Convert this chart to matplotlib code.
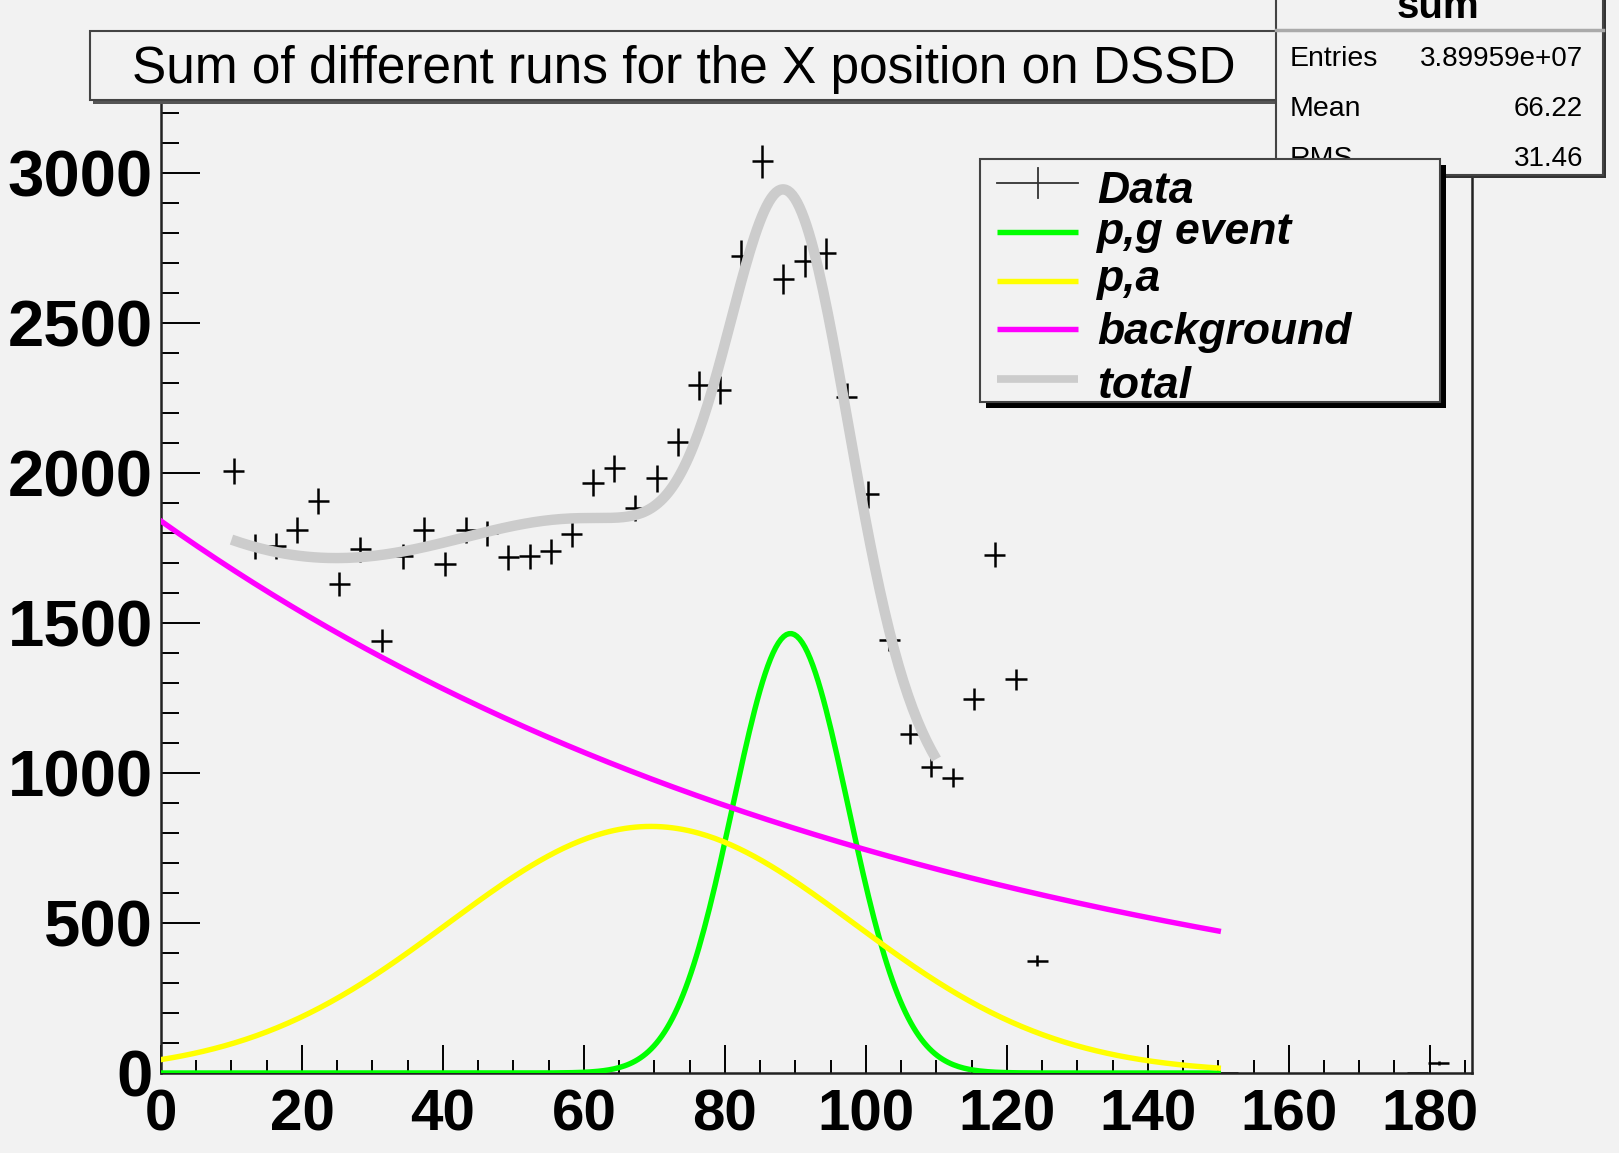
import numpy as np
import matplotlib
matplotlib.use("Agg")
import matplotlib.pyplot as plt
from matplotlib.patches import Rectangle
from matplotlib.lines import Line2D

# ---- data ----
# bin centres and counts of the summed histogram
x_data = [10.3, 13.3, 16.3, 19.3, 22.3, 25.3, 28.3, 31.3, 34.3, 37.3,
          40.3, 43.3, 46.3, 49.3, 52.3, 55.3, 58.3, 61.3, 64.3, 67.3,
          70.3, 73.3, 76.3, 79.3, 82.3, 85.3, 88.3, 91.3, 94.3, 97.3,
          100.3, 103.3, 106.3, 109.3, 112.3, 115.3, 118.3, 121.3, 124.3,
          151.3, 178.3, 181.3]
y_data = [2007, 1754, 1757, 1810, 1907, 1629, 1746, 1441, 1723, 1810,
          1697, 1810, 1799, 1719, 1723, 1740, 1796, 1968, 2016, 1883,
          1982, 2104, 2293, 2277, 2724, 3040, 2647, 2707, 2732, 2252,
          1929, 1445, 1130, 1020, 985, 1247, 1728, 1312, 375,
          0, 0, 33]
bin_half = 1.5

# fit components (amplitude, mean, sigma) / exponential background
pg_par = [1465, 89.3, 8.2]
pa_par = [822, 69.5, 28.8]
bg_par = [1840, 0.00905]
fit_range = [0, 150]
total_range = [10, 110]

title = "Sum of different runs for the X position on DSSD"
stats_name = "sum"
stats_keys = ["Entries", "Mean", "RMS"]
stats_vals = ["3.89959e+07", "66.22", "31.46"]
legend_labels = ["Data", "p,g event", "p,a", "background", "total"]


def gaus(x, p):
    return p[0] * np.exp(-0.5 * ((x - p[1]) / p[2]) ** 2)


def expo(x, p):
    return p[0] * np.exp(-p[1] * x)


W, H = 1619, 1153
BG = "#f2f2f2"
plt.rcParams["font.family"] = ["Liberation Sans", "DejaVu Sans"]

fig = plt.figure(figsize=(W / 100, H / 100), dpi=100, facecolor=BG)
ax = fig.add_axes([161 / W, 1 - 1073 / H, (1472 - 161) / W, (1073 - 102) / H])
ax.set_facecolor(BG)


def fx(px):
    return px / W


def fy(py):
    return 1 - py / H


# data with error bars
x = np.array(x_data)
y = np.array(y_data, dtype=float)
ax.errorbar(x, y, xerr=bin_half, yerr=np.sqrt(y), fmt="none", ecolor="black",
            elinewidth=1.8, capsize=0, zorder=2)

# fit curves
xf = np.linspace(fit_range[0], fit_range[1], 400)
styles = {
    "pg": dict(color="#00ff00", lw=3.9),
    "pa": dict(color="#ffff00", lw=3.9),
    "bg": dict(color="#ff00ff", lw=3.9),
    "tot": dict(color="#cccccc", lw=7.5),
}
ax.plot(xf, gaus(xf, pg_par), zorder=3, **styles["pg"])
ax.plot(xf, gaus(xf, pa_par), zorder=3, **styles["pa"])
ax.plot(xf, expo(xf, bg_par), zorder=3, **styles["bg"])
xt = np.linspace(total_range[0], total_range[1], 300)
ax.plot(xt, gaus(xt, pg_par) + gaus(xt, pa_par) + expo(xt, bg_par), zorder=4,
        solid_capstyle="butt", **styles["tot"])

ax.set_xlim(0, 186)
ax.set_ylim(0, 3237)
ax.set_xticks(np.arange(0, 181, 20))
ax.set_xticks(np.arange(0, 186, 5), minor=True)
ax.set_yticks(np.arange(0, 3001, 500))
ax.set_yticks(np.arange(0, 3237, 100), minor=True)
ax.tick_params(axis="x", which="major", direction="in", length=20, width=1.4,
               pad=11, labelsize=42)
ax.tick_params(axis="x", which="minor", direction="in", length=9.5, width=1.4)
ax.tick_params(axis="y", which="major", direction="in", length=28, width=1.4,
               pad=6, labelsize=47)
ax.tick_params(axis="y", which="minor", direction="in", length=13, width=1.4)
plt.setp(ax.get_xticklabels() + ax.get_yticklabels(), fontweight="bold")
for s in ax.spines.values():
    s.set_linewidth(1.8)
    s.set_color("#222222")

# title box
fig.add_artist(Rectangle((fx(93), fy(104)), fx(1187), 69 / H, transform=fig.transFigure,
                         facecolor="#555555", edgecolor="none", zorder=4))
fig.add_artist(Rectangle((fx(90), fy(100)), fx(1187), 69 / H, transform=fig.transFigure,
                         facecolor=BG, edgecolor="#444444", lw=1.5, zorder=5))
fig.text(fx(684), fy(69), title, ha="center", va="center", fontsize=37, zorder=6)

# stats box
fig.add_artist(Rectangle((fx(1279), fy(178)), fx(327), 190 / H, transform=fig.transFigure,
                         facecolor="#333333", edgecolor="none", zorder=5))
fig.add_artist(Rectangle((fx(1276), fy(175)), fx(327), 190 / H, transform=fig.transFigure,
                         facecolor=BG, edgecolor="#444444", lw=1.5, zorder=5))
fig.add_artist(Line2D([fx(1276), fx(1603)], [fy(30), fy(30)], transform=fig.transFigure,
                      color="#aaaaaa", lw=2.5, zorder=6))
fig.text(fx(1438), fy(18), stats_name, ha="center", va="baseline", fontsize=29,
         fontweight="bold", zorder=6)
for i, (k, v) in enumerate(zip(stats_keys, stats_vals)):
    yb = 66 + 50 * i
    fig.text(fx(1290), fy(yb), k, ha="left", va="baseline", fontsize=20.5, zorder=6)
    fig.text(fx(1583), fy(yb), v, ha="right", va="baseline", fontsize=20, zorder=6)

# legend box
fig.add_artist(Rectangle((fx(986), fy(408)), fx(460), 243 / H, transform=fig.transFigure,
                         facecolor="black", edgecolor="none", zorder=7))
fig.add_artist(Rectangle((fx(980), fy(402)), fx(460), 243 / H, transform=fig.transFigure,
                         facecolor=BG, edgecolor="#444444", lw=1.5, zorder=8))
handle_y = [183, 232, 281, 329, 379]
text_base = [203, 244, 291, 344, 398]
keys = [None, "pg", "pa", "bg", "tot"]
for lab, hy, tb, k in zip(legend_labels, handle_y, text_base, keys):
    if k is None:
        fig.add_artist(Line2D([fx(997), fx(1078)], [fy(hy), fy(hy)], transform=fig.transFigure,
                              color="#333333", lw=1.3, zorder=9))
        fig.add_artist(Line2D([fx(1038), fx(1038)], [fy(hy - 15), fy(hy + 15)],
                              transform=fig.transFigure, color="#333333", lw=1.3, zorder=9))
    else:
        st = dict(styles[k])
        st["lw"] = min(st["lw"], 5.5)
        fig.add_artist(Line2D([fx(997), fx(1078)], [fy(hy), fy(hy)], transform=fig.transFigure,
                              solid_capstyle="butt", zorder=9, **st))
    fig.text(fx(1097), fy(tb), lab, ha="left", va="baseline", fontsize=32,
             fontweight="bold", fontstyle="italic", zorder=9)

fig.savefig("out.png", dpi=100, facecolor=BG)
